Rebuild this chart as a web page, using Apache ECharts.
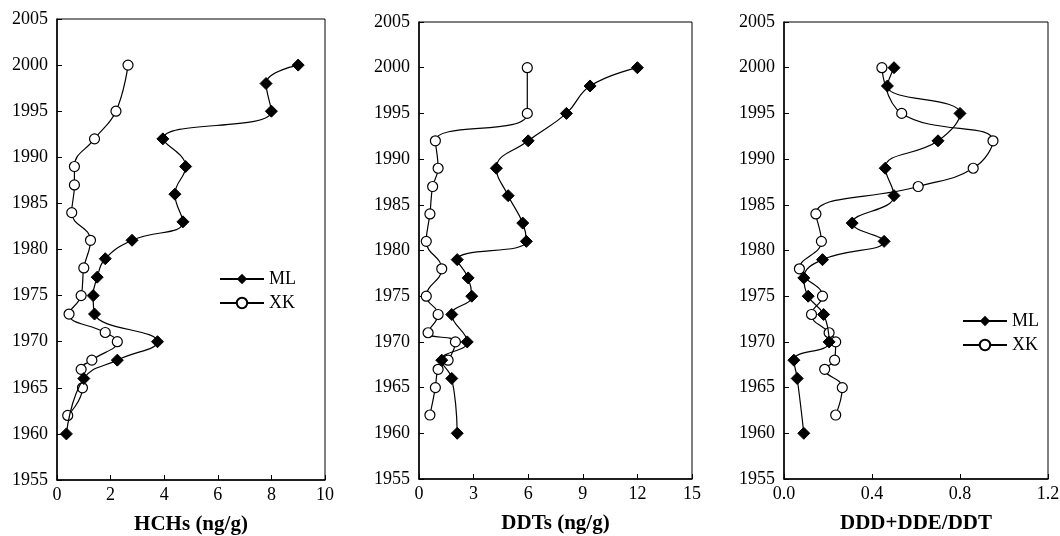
<!DOCTYPE html>
<html lang="en">
<head>
    <meta charset="UTF-8">
    <title>HCHs DDTs profiles</title>
    <script src="https://cdn.jsdelivr.net/npm/echarts@6/dist/echarts.min.js"></script>
    <style>
        body { margin: 0; background: #fff; }
    </style>
</head>
<body>
<div id="chart" style="width: 1060px; height: 536px"></div>
<script>
    // years of the two cores
    var mlYears = [2000, 1998, 1995, 1992, 1989, 1986, 1983, 1981, 1979, 1977, 1975, 1973, 1970, 1968, 1966, 1960];
    var xkYears = [2000, 1995, 1992, 1989, 1987, 1984, 1981, 1978, 1975, 1973, 1971, 1970, 1968, 1967, 1965, 1962];

    // HCHs (ng/g)
    var hchML = [9.0, 7.8, 8.0, 3.95, 4.8, 4.4, 4.7, 2.8, 1.8, 1.5, 1.35, 1.4, 3.75, 2.25, 1.0, 0.35];
    var hchXK = [2.65, 2.2, 1.4, 0.65, 0.65, 0.55, 1.25, 1.0, 0.9, 0.45, 1.8, 2.25, 1.3, 0.9, 0.95, 0.4];

    // DDTs (ng/g)
    var ddtML = [12.0, 9.4, 8.1, 6.0, 4.25, 4.9, 5.7, 5.9, 2.1, 2.7, 2.9, 1.8, 2.65, 1.25, 1.8, 2.1];
    var ddtXK = [5.95, 5.95, 0.9, 1.05, 0.75, 0.6, 0.4, 1.25, 0.4, 1.05, 0.5, 2.0, 1.6, 1.05, 0.9, 0.6];

    // DDD+DDE/DDT
    var ratioML = [0.50, 0.47, 0.80, 0.70, 0.46, 0.50, 0.31, 0.455, 0.175, 0.09, 0.11, 0.18, 0.205, 0.045, 0.06, 0.09];
    var ratioXK = [0.445, 0.535, 0.95, 0.86, 0.61, 0.145, 0.17, 0.07, 0.175, 0.125, 0.205, 0.235, 0.23, 0.185, 0.265, 0.235];

    var xNames = ['HCHs (ng/g)', 'DDTs (ng/g)', 'DDD+DDE/DDT'];
    var xMax = [10, 15, 1.2];
    var xStep = [2, 3, 0.4];

    var font = 'Liberation Serif';

    function pairs(vals, years) {
        var out = [];
        for (var i = 0; i < vals.length; i++) {
            out.push([vals[i], years[i]]);
        }
        return out;
    }

    var grids = [
        {left: 57, top: 19, width: 268, height: 461},
        {left: 419, top: 22, width: 273, height: 457},
        {left: 784, top: 22, width: 264, height: 457}
    ];

    var xAxes = [], yAxes = [];
    for (var g = 0; g < 3; g++) {
        grids[g].show = true;
        grids[g].borderColor = '#000';
        grids[g].borderWidth = 1;
        grids[g].outerBoundsMode = 'none';
        (function (g) {
            xAxes.push({
                gridIndex: g,
                type: 'value',
                min: 0,
                max: xMax[g],
                interval: xStep[g],
                name: xNames[g],
                nameLocation: 'middle',
                nameGap: 34,
                nameTextStyle: {fontFamily: font, fontWeight: 'bold', fontSize: 21, color: '#000'},
                axisLine: {show: true, lineStyle: {color: '#000', width: 1.5}},
                axisTick: {show: true, inside: true, length: 5, lineStyle: {color: '#000'}},
                axisLabel: {
                    fontFamily: font, fontSize: 18, color: '#000', margin: 6,
                    formatter: function (v) { return g === 2 ? v.toFixed(1) : String(v); }
                },
                splitLine: {show: false}
            });
        })(g);
        yAxes.push({
            gridIndex: g,
            type: 'value',
            min: 1955,
            max: 2005,
            interval: 5,
            axisLine: {show: true, lineStyle: {color: '#000', width: 1.5}},
            axisTick: {show: true, inside: true, length: 5, lineStyle: {color: '#000'}},
            axisLabel: {
                fontFamily: font, fontSize: 18, color: '#000', margin: 9,
                formatter: function (v) { return String(v); }
            },
            splitLine: {show: false}
        });
    }

    var mlSets = [hchML, ddtML, ratioML];
    var xkSets = [hchXK, ddtXK, ratioXK];
    var series = [];
    for (var s = 0; s < 3; s++) {
        series.push({
            name: 'XK',
            type: 'line',
            xAxisIndex: s,
            yAxisIndex: s,
            data: pairs(xkSets[s], xkYears),
            smooth: 0.45,
            symbol: 'circle',
            symbolSize: 10,
            lineStyle: {color: '#000', width: 1.2},
            itemStyle: {color: '#fff', borderColor: '#000', borderWidth: 1.2},
            z: 2
        });
        series.push({
            name: 'ML',
            type: 'line',
            xAxisIndex: s,
            yAxisIndex: s,
            data: pairs(mlSets[s], mlYears),
            smooth: 0.45,
            symbol: 'diamond',
            symbolSize: 12,
            lineStyle: {color: '#000', width: 1.2},
            itemStyle: {color: '#000', borderColor: '#000'},
            z: 3
        });
    }

    var legendBase = {
        data: ['ML', 'XK'],
        orient: 'vertical',
        itemWidth: 44,
        itemHeight: 13,
        itemGap: 6,
        textStyle: {fontFamily: font, fontSize: 18, color: '#000'}
    };
    var leg1 = Object.assign({}, legendBase, {left: 214, top: 265});
    var leg2 = Object.assign({}, legendBase, {left: 957, top: 307});

    var chart = echarts.init(document.getElementById('chart'));
    chart.setOption({
        animation: false,
        backgroundColor: '#fff',
        legend: [leg1, leg2],
        grid: grids,
        xAxis: xAxes,
        yAxis: yAxes,
        series: series
    });
</script>
</body>
</html>
